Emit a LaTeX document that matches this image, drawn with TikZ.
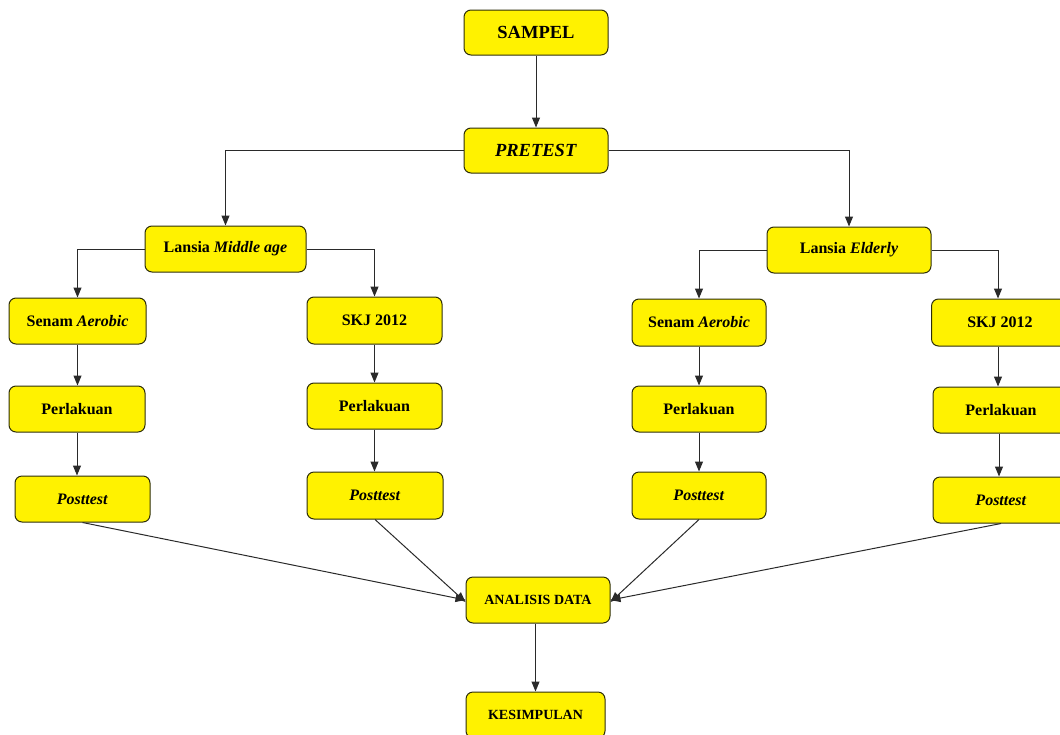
\documentclass[tikz,border=0pt]{standalone}
\usepackage{fontspec}
\setmainfont{Liberation Serif}
\usetikzlibrary{arrows.meta}
\definecolor{boxline}{HTML}{2E2E0A}
\definecolor{conn}{HTML}{2A2A2A}
\tikzset{
  bx/.style={draw=boxline, fill=yellow, rounded corners=7pt, line width=1pt, inner sep=0pt, align=center,
    font=\bfseries\fontsize{16}{18}\selectfont},
  big/.style={font=\bfseries\fontsize{18.5}{20}\selectfont},
  small/.style={font=\bfseries\fontsize{14}{16}\selectfont},
  conn/.style={draw=conn, line width=1pt, -{Triangle[length=10pt,width=8pt]}}
}
\begin{document}
\begin{tikzpicture}[x=1pt,y=-1pt]
\useasboundingbox (0,0) rectangle (1060,734);
\node[bx,big,minimum width=144pt,minimum height=45pt] (sampel) at (536,32.5) {SAMPEL};
\node[bx,big,minimum width=144pt,minimum height=45pt] (pretest) at (536,150.5) {\textit{PRETEST}};
\node[bx,minimum width=161pt,minimum height=46pt] (lmid) at (225.5,249) {Lansia \textit{Middle age}};
\node[bx,minimum width=164pt,minimum height=46pt] (leld) at (849,250) {Lansia \textit{Elderly}};
\node[bx,minimum width=137pt,minimum height=46pt] (senL) at (77.5,321) {Senam \textit{Aerobic}};
\node[bx,minimum width=135pt,minimum height=47pt] (skjL) at (374.5,320.5) {SKJ 2012};
\node[bx,minimum width=136pt,minimum height=46pt] (perL1) at (77,409) {Perlakuan};
\node[bx,minimum width=135pt,minimum height=46pt] (perL2) at (374.5,406) {Perlakuan};
\node[bx,minimum width=135pt,minimum height=46pt] (postL1) at (82.5,499) {\textit{Posttest}};
\node[bx,minimum width=136pt,minimum height=47pt] (postL2) at (375,495.5) {\textit{Posttest}};
\node[bx,minimum width=134pt,minimum height=47pt] (senR) at (699,322.5) {Senam \textit{Aerobic}};
\node[bx,minimum width=137pt,minimum height=47pt] (skjR) at (1000,322.5) {SKJ 2012};
\node[bx,minimum width=134pt,minimum height=46pt] (perR1) at (699,409) {Perlakuan};
\node[bx,minimum width=136pt,minimum height=46pt] (perR2) at (1001,410) {Perlakuan};
\node[bx,minimum width=134pt,minimum height=47pt] (postR1) at (699,495.5) {\textit{Posttest}};
\node[bx,minimum width=136pt,minimum height=46pt] (postR2) at (1001,500) {\textit{Posttest}};
\node[bx,small,minimum width=144pt,minimum height=46pt] (ana) at (538,600) {ANALISIS DATA};
\node[bx,small,minimum width=139pt,minimum height=46pt] (kes) at (535.5,715) {KESIMPULAN};

\draw[conn] (sampel.south) -- (pretest.north);
\draw[conn] (pretest.west) -| (lmid.north);
\draw[conn] (pretest.east) -| (leld.north);
\draw[conn] (lmid.west) -| (senL.north);
\draw[conn] (lmid.east) -| (skjL.north);
\draw[conn] (leld.west) -| (senR.north);
\draw[conn] (leld.east) -| ([xshift=-2pt]skjR.north);
\draw[conn] (senL.south) -- (senL.south |- perL1.north);
\draw[conn] (perL1.south) -- (perL1.south |- postL1.north);
\draw[conn] (skjL.south) -- (skjL.south |- perL2.north);
\draw[conn] (perL2.south) -- (perL2.south |- postL2.north);
\draw[conn] (senR.south) -- (senR.south |- perR1.north);
\draw[conn] (perR1.south) -- (perR1.south |- postR1.north);
\draw[conn] ([xshift=-2pt]skjR.south) -- ([xshift=-2pt]skjR.south |- perR2.north);
\draw[conn] ([xshift=-2pt]perR2.south) -- ([xshift=-2pt]perR2.south |- postR2.north);
\draw[conn] (postL1.south) -- (ana.west);
\draw[conn] (postL2.south) -- ([yshift=-2pt]ana.west);
\draw[conn] (postR1.south) -- ([yshift=-2pt]ana.east);
\draw[conn] (postR2.south) -- (ana.east);
\draw[conn] (kes.north |- ana.south) -- (kes.north);
\end{tikzpicture}
\end{document}
